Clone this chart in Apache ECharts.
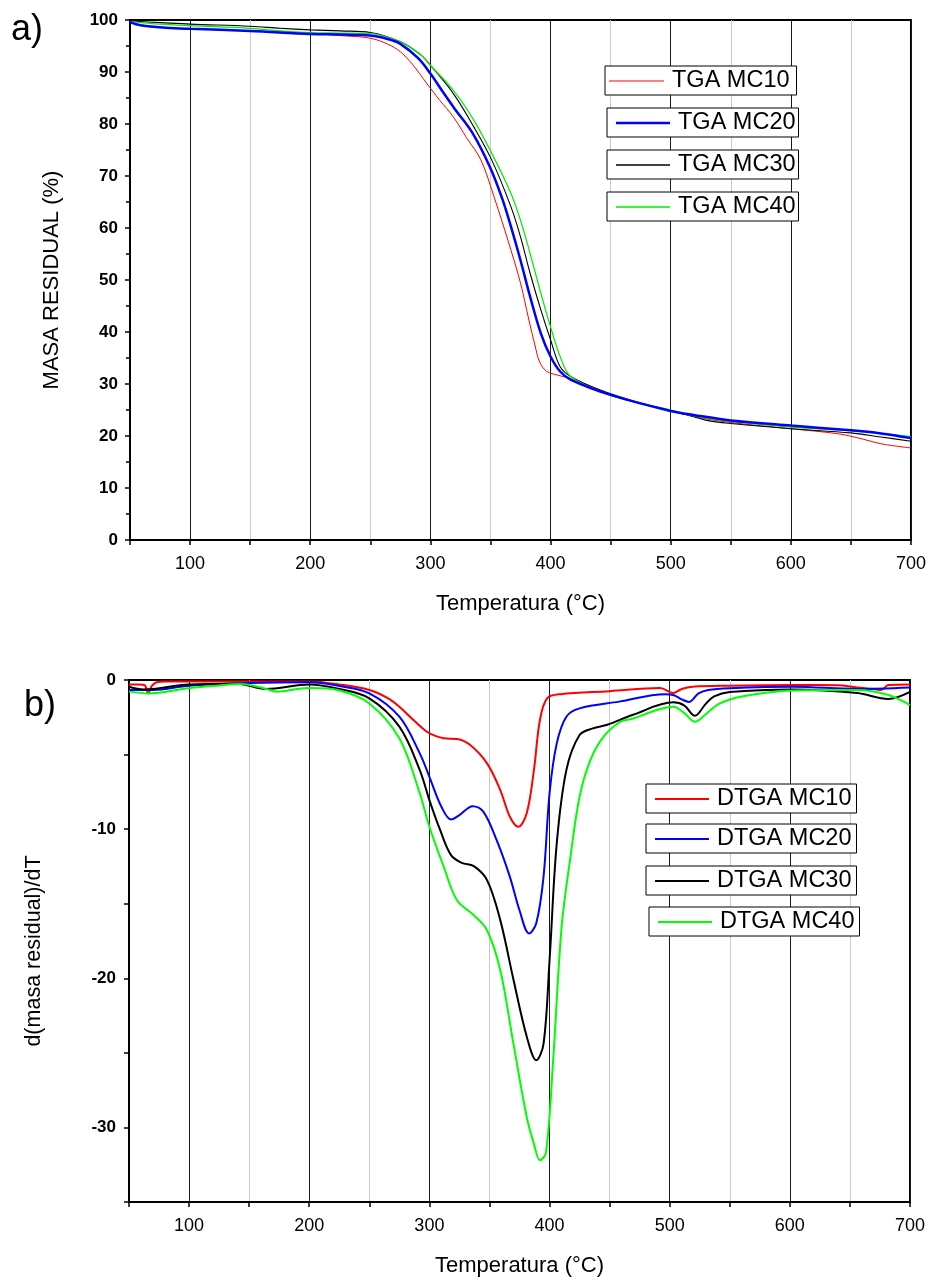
<!DOCTYPE html>
<html>
<head>
<meta charset="utf-8">
<script src="https://cdn.jsdelivr.net/npm/echarts/dist/echarts.min.js"></script>
<style>
  html, body { margin: 0; padding: 0; background: #fff; }
  #chart { width: 932px; height: 1281px; }
</style>
</head>
<body>
<div id="chart"></div>
<script>
// ---- TGA: residual mass (%) vs temperature (°C) ----
const tgaTempMC10 = [50, 60, 75, 100, 150, 200, 225, 250, 265, 275, 285, 297, 308, 319, 330, 342, 353, 360, 367, 375, 382, 387, 391, 397, 406, 417, 450, 500, 520, 550, 600, 640, 660, 675, 700];
const tgaMC10     = [99.6, 99.0, 98.6, 98.3, 97.9, 97.4, 97.0, 96.5, 95.3, 93.9, 91.5, 87.8, 84.5, 81.4, 77.4, 73.1, 66.0, 61.0, 55.8, 49.4, 42.3, 37.5, 34.2, 32.4, 31.7, 31.0, 27.8, 24.9, 23.7, 22.6, 21.4, 20.4, 19.4, 18.5, 17.7];

const tgaTempMC20 = [50, 55, 65, 80, 100, 150, 200, 225, 250, 265, 275, 290, 300, 310, 320, 335, 350, 360, 367, 375, 383, 392, 400, 408, 417, 450, 500, 520, 550, 600, 650, 675, 700];
const tgaMC20     = [99.6, 99.2, 98.8, 98.5, 98.3, 97.9, 97.3, 97.2, 97.0, 96.3, 95.4, 92.6, 89.7, 86.3, 83.0, 78.3, 71.5, 65.5, 60.3, 53.8, 46.8, 39.7, 35.3, 32.4, 30.8, 27.9, 24.8, 24.0, 23.0, 22.0, 21.1, 20.5, 19.6];

const tgaTempMC30 = [50, 75, 100, 150, 175, 200, 225, 250, 275, 292, 300, 319, 336, 351, 367, 375, 383, 392, 400, 408, 417, 442, 475, 500, 515, 530, 550, 600, 650, 675, 700];
const tgaMC30     = [99.8, 99.5, 99.2, 98.8, 98.4, 98.1, 97.9, 97.6, 95.8, 93.3, 91.3, 85.9, 79.5, 73.1, 64.1, 58.3, 51.3, 44.2, 38.5, 33.3, 31.4, 28.8, 26.3, 24.8, 24.0, 23.0, 22.4, 21.4, 20.6, 19.8, 19.0];

const tgaTempMC40 = [50, 75, 100, 150, 175, 200, 225, 250, 275, 292, 300, 319, 336, 351, 367, 375, 383, 392, 400, 408, 417, 450, 500, 520, 550, 600, 650, 675, 700];
const tgaMC40     = [99.7, 99.2, 98.9, 98.4, 97.9, 97.6, 97.5, 97.4, 95.8, 93.3, 91.3, 86.5, 80.8, 74.4, 66.7, 61.5, 55.1, 47.4, 41.0, 35.3, 31.4, 27.8, 25.0, 23.8, 22.8, 21.7, 21.0, 20.5, 19.9];

// ---- DTGA: derivative of residual mass vs temperature (°C) ----
const dtgaTempMC10 = [50, 58, 63, 66, 69, 73, 80, 100, 150, 200, 225, 250, 265, 275, 287, 298, 305, 312, 323, 334, 348, 359, 367, 374, 381, 387, 392, 398, 409, 450, 492, 503, 510, 519, 550, 603, 640, 656, 670, 676, 682, 700];
const dtgaMC10     = [-0.3, -0.3, -0.35, -0.9, -0.4, -0.15, -0.1, -0.1, -0.1, -0.1, -0.3, -0.67, -1.2, -1.79, -2.7, -3.47, -3.75, -3.91, -3.96, -4.36, -5.59, -7.38, -9.17, -9.84, -8.93, -6.04, -2.68, -1.23, -0.95, -0.75, -0.54, -0.87, -0.6, -0.45, -0.38, -0.34, -0.35, -0.5, -0.6, -0.67, -0.34, -0.3];

const dtgaTempMC20 = [50, 70, 100, 150, 200, 225, 250, 275, 292, 300, 310, 318, 325, 336, 345, 356, 367, 375, 383, 389, 395, 400, 406, 414, 425, 458, 496, 503, 510, 516, 524, 532, 550, 603, 656, 700];
const dtgaMC20     = [-0.67, -0.67, -0.38, -0.2, -0.15, -0.4, -0.89, -2.46, -4.92, -6.49, -8.5, -9.35, -9.06, -8.46, -8.84, -10.74, -13.2, -15.44, -17.0, -16.3, -13.2, -7.6, -4.25, -2.46, -1.9, -1.45, -0.95, -1.0, -1.3, -1.47, -0.9, -0.67, -0.55, -0.45, -0.6, -0.5];

const dtgaTempMC30 = [50, 62, 70, 100, 140, 164, 200, 225, 250, 275, 292, 300, 309, 318, 327, 337, 348, 359, 370, 381, 389, 395, 400, 406, 414, 425, 436, 448, 469, 503, 512, 521, 530, 537, 550, 603, 656, 682, 700];
const dtgaMC30     = [-0.45, -0.63, -0.6, -0.3, -0.25, -0.6, -0.3, -0.6, -1.23, -3.13, -6.04, -8.05, -10.07, -11.74, -12.26, -12.48, -13.42, -16.1, -20.1, -23.9, -25.5, -24.4, -18.8, -10.96, -6.04, -3.69, -3.24, -3.0, -2.35, -1.5, -1.7, -2.4, -1.6, -1.1, -0.8, -0.63, -0.87, -1.27, -0.8];

const dtgaTempMC40 = [50, 67, 80, 101, 120, 142, 160, 173, 190, 201, 225, 250, 275, 292, 300, 312, 323, 337, 348, 359, 370, 381, 387, 392, 397, 403, 410, 417, 425, 434, 445, 459, 469, 490, 503, 512, 521, 530, 541, 560, 603, 656, 682, 700];
const dtgaMC40     = [-0.78, -0.9, -0.8, -0.54, -0.4, -0.27, -0.5, -0.78, -0.6, -0.54, -0.7, -1.57, -3.91, -7.6, -9.84, -12.53, -14.77, -15.77, -16.78, -19.46, -24.4, -29.3, -31.1, -32.2, -31.7, -25.5, -16.6, -12.1, -7.83, -5.37, -3.8, -2.8, -2.6, -2.0, -1.8, -2.2, -2.8, -2.3, -1.6, -1.1, -0.7, -0.67, -1.0, -1.68];

// ---- axis ranges ----
const tempMin = 50, tempMax = 700, tempStep = 50;
const massMin = 0, massMax = 100, massStep = 10;
const derivMin = -35, derivMax = 0, derivStep = 5;

const FONT = '"Liberation Sans", Arial, Helvetica, sans-serif';
const pairs = (t, v) => t.map((x, i) => [x, v[i]]);

function xAxisFor(gridIndex) {
  return {
    type: 'value', gridIndex, min: tempMin, max: tempMax, interval: tempStep,
    name: 'Temperatura (°C)', nameLocation: 'middle', nameGap: 53,
    nameTextStyle: { fontFamily: FONT, fontSize: 22, color: '#000' },
    axisLine: { show: true, onZero: false, lineStyle: { color: '#000', width: 2 } },
    axisTick: { show: true, inside: false, length: 5, lineStyle: { color: '#000', width: 1.5 } },
    axisLabel: {
      margin: 15, fontFamily: FONT, fontSize: 18, color: '#000',
      formatter: v => (v % 100 === 0 ? String(v) : '')
    },
    splitLine: { show: true, lineStyle: { color: ['#c8c8c8', '#1a1a1a'], width: 1 } },
    minorTick: { show: false }, minorSplitLine: { show: false }
  };
}

function lineSeries(name, x, y, color, width, xi) {
  return {
    type: 'line', name, xAxisIndex: xi, yAxisIndex: xi,
    data: pairs(x, y), symbol: 'none', showSymbol: false,
    smooth: 0.35, clip: true, animation: false,
    lineStyle: { color, width }, itemStyle: { color }
  };
}

// one framed legend entry: a short line sample followed by its label
function legendBox(name, left, top, padL, padR, sampleW, sampleH) {
  return {
    data: [name], left, top, orient: 'horizontal', selectedMode: false,
    icon: 'rect', itemWidth: sampleW, itemHeight: sampleH, itemGap: 0,
    padding: [3, padR, 2, padL],
    borderColor: '#000', borderWidth: 1, backgroundColor: '#fff',
    textStyle: { fontFamily: FONT, fontSize: 23.5, color: '#000', padding: [0, 0, 0, 3] }
  };
}

const option = {
  animation: false,
  backgroundColor: '#fff',
  grid: [
    { left: 130, top: 20, width: 781, height: 520, show: true, borderColor: '#000', borderWidth: 2, backgroundColor: 'transparent', containLabel: false, outerBoundsMode: 'none' },
    { left: 129, top: 680, width: 781, height: 522, show: true, borderColor: '#000', borderWidth: 2, backgroundColor: 'transparent', containLabel: false, outerBoundsMode: 'none' }
  ],
  xAxis: [xAxisFor(0), xAxisFor(1)],
  yAxis: [
    {
      type: 'value', gridIndex: 0, min: massMin, max: massMax, interval: massStep,
      name: 'MASA RESIDUAL (%)', nameLocation: 'middle', nameGap: 67,
      nameTextStyle: { fontFamily: FONT, fontSize: 22, color: '#000' },
      axisLine: { show: true, lineStyle: { color: '#000', width: 2 } },
      axisTick: { show: true, inside: false, length: 5, lineStyle: { color: '#000', width: 1.5 } },
      minorTick: { show: true, splitNumber: 2, length: 4, lineStyle: { color: '#000', width: 1.5 } },
      axisLabel: { margin: 12, fontFamily: FONT, fontSize: 17, fontWeight: 'bold', color: '#000' },
      splitLine: { show: false }, minorSplitLine: { show: false }
    },
    {
      type: 'value', gridIndex: 1, min: derivMin, max: derivMax, interval: derivStep,
      name: 'd(masa residual)/dT', nameLocation: 'middle', nameGap: 84,
      nameTextStyle: { fontFamily: FONT, fontSize: 21.5, color: '#000', padding: [0, 20, 0, 0] },
      axisLine: { show: true, onZero: false, lineStyle: { color: '#000', width: 2 } },
      axisTick: { show: true, inside: false, length: 5, lineStyle: { color: '#000', width: 1.5 } },
      axisLabel: {
        margin: 13, fontFamily: FONT, fontSize: 17, fontWeight: 'bold', color: '#000',
        formatter: v => (v % 10 === 0 ? String(v) : '')
      },
      splitLine: { show: false }
    }
  ],
  legend: [
    legendBox('TGA MC10', 605, 66, 4, 7, 55, 1.2),
    legendBox('TGA MC20', 607, 108, 9, 3, 54, 2.6),
    legendBox('TGA MC30', 607, 150, 9, 3, 54, 1.6),
    legendBox('TGA MC40', 607, 192, 9, 3, 54, 1.6),
    legendBox('DTGA MC10', 646, 784, 9, 5, 54, 2.2),
    legendBox('DTGA MC20', 646, 824, 9, 5, 54, 2.2),
    legendBox('DTGA MC30', 646, 866, 9, 5, 54, 2.2),
    legendBox('DTGA MC40', 649, 907, 9, 5, 54, 2.2)
  ],
  graphic: [
    { type: 'text', left: 11, top: 12, style: { text: 'a)', fontFamily: FONT, fontSize: 36, fill: '#000' } },
    { type: 'text', left: 24, top: 688, style: { text: 'b)', fontFamily: FONT, fontSize: 36, fill: '#000' } }
  ],
  series: [
    lineSeries('TGA MC10', tgaTempMC10, tgaMC10, '#ff0000', 1, 0),
    lineSeries('TGA MC30', tgaTempMC30, tgaMC30, '#000000', 1.1, 0),
    lineSeries('TGA MC40', tgaTempMC40, tgaMC40, '#00ee00', 1.2, 0),
    lineSeries('TGA MC20', tgaTempMC20, tgaMC20, '#0000ff', 2.5, 0),
    lineSeries('DTGA MC10', dtgaTempMC10, dtgaMC10, '#ff0000', 2, 1),
    lineSeries('DTGA MC20', dtgaTempMC20, dtgaMC20, '#0000ff', 2, 1),
    lineSeries('DTGA MC30', dtgaTempMC30, dtgaMC30, '#000000', 2, 1),
    lineSeries('DTGA MC40', dtgaTempMC40, dtgaMC40, '#00ff00', 2, 1)
  ]
};

const chart = echarts.init(document.getElementById('chart'), null, { renderer: 'canvas' });
chart.setOption(option);
</script>
</body>
</html>
